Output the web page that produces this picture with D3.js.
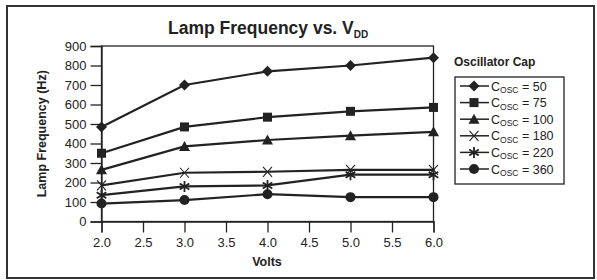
<!DOCTYPE html>
<html><head><meta charset="utf-8">
<script src="https://cdn.jsdelivr.net/npm/d3@7"></script>
<style>
body{margin:0;background:#fff;}
text{font-family:"Liberation Sans",Arial,sans-serif;fill:#222;}
</style></head>
<body><svg id="c" width="597" height="280"></svg>
<script>
const volts = [2.0, 3.0, 4.0, 5.0, 6.0];
const xTicks = [2.0, 2.5, 3.0, 3.5, 4.0, 4.5, 5.0, 5.5, 6.0];
const yTicks = [0, 100, 200, 300, 400, 500, 600, 700, 800, 900];
const capLabels = ["50", "75", "100", "180", "220", "360"];
const markerTypes = ["diamond", "square", "triangle", "x", "star", "circle"];
const c50  = [485, 700, 770, 800, 840];
const c75  = [350, 485, 535, 565, 585];
const c100 = [265, 385, 418, 440, 460];
const c180 = [185, 250, 255, 265, 265];
const c220 = [135, 180, 185, 240, 240];
const c360 = [92, 110, 140, 125, 125];
const seriesValues = [c50, c75, c100, c180, c220, c360];

const svg = d3.select("#c");
const ink = "#222";
svg.append("rect").attr("x",7).attr("y",6).attr("width",587).attr("height",272)
  .attr("fill","#fff").attr("stroke","#333").attr("stroke-width",2);

const L=101.5, R=433.5, T=46, B=221.5;
const x = d3.scaleLinear().domain([2,6]).range([L,R]);
const y = d3.scaleLinear().domain([0,900]).range([B,T]);

// plot box
svg.append("rect").attr("x",L).attr("y",T).attr("width",R-L).attr("height",B-T)
  .attr("fill","none").attr("stroke",ink).attr("stroke-width",1.3);

const gx = svg.append("g").attr("transform",`translate(0,${B})`)
  .call(d3.axisBottom(x).tickValues(xTicks).tickFormat(d3.format(".1f")).tickSize(11).tickPadding(5));
const gy = svg.append("g").attr("transform",`translate(${L},0)`)
  .call(d3.axisLeft(y).tickValues(yTicks).tickSize(11).tickPadding(4));
[gx,gy].forEach(g=>{
  g.select(".domain").attr("stroke",ink).attr("stroke-width",1.3);
  g.selectAll(".tick line").attr("stroke",ink).attr("stroke-width",1.3);
  g.selectAll(".tick text").attr("font-size",13).attr("font-family","Liberation Sans, Arial, sans-serif").attr("fill","#333");
});

function marker(g, type, cx, cy){
  const s = g.append("g").attr("transform",`translate(${cx},${cy})`);
  if(type==="diamond") s.append("path").attr("d","M0,-5.5L5.5,0L0,5.5L-5.5,0Z").attr("fill",ink);
  else if(type==="square") s.append("rect").attr("x",-4.5).attr("y",-4.5).attr("width",9).attr("height",9).attr("fill",ink);
  else if(type==="triangle") s.append("path").attr("d","M0,-5.5L5.5,4.5L-5.5,4.5Z").attr("fill",ink);
  else if(type==="x") s.append("path").attr("d","M-4.5,-5L4.5,5M4.5,-5L-4.5,5").attr("stroke",ink).attr("stroke-width",1.1).attr("fill","none");
  else if(type==="star") s.append("path").attr("d","M0,-5.5L0,5.5M-4.8,-3L4.8,3M4.8,-3L-4.8,3").attr("stroke",ink).attr("stroke-width",1.8).attr("fill","none");
  else if(type==="circle") s.append("circle").attr("r",5).attr("fill",ink);
}

const line = d3.line().x((d,i)=>x(volts[i])).y(d=>y(d));
seriesValues.forEach((vals,k)=>{
  svg.append("path").attr("d",line(vals)).attr("fill","none").attr("stroke",ink).attr("stroke-width",2.2);
});
seriesValues.forEach((vals,k)=>{
  vals.forEach((v,i)=>marker(svg, markerTypes[k], x(volts[i]), y(v)));
});

// title
const title = svg.append("text").attr("x",168).attr("y",34).attr("font-size",17.5).attr("font-weight","bold");
title.append("tspan").text("Lamp Frequency vs. V");
title.append("tspan").attr("dy",4).attr("font-size",10).text("DD");

svg.append("text").attr("transform",`translate(46,${(T+B)/2}) rotate(-90)`)
  .attr("text-anchor","middle").attr("font-size",12.5).attr("font-weight","bold").text("Lamp Frequency (Hz)");
svg.append("text").attr("x",267).attr("y",266).attr("text-anchor","middle")
  .attr("font-size",12.5).attr("font-weight","bold").text("Volts");

// legend
svg.append("text").attr("x",454).attr("y",66).attr("font-size",12).attr("font-weight","bold").text("Oscillator Cap");
svg.append("rect").attr("x",455).attr("y",77).attr("width",109).attr("height",107)
  .attr("fill","#fff").attr("stroke",ink).attr("stroke-width",1.3);
capLabels.forEach((c,k)=>{
  const cy = 86 + k*16.6;
  svg.append("line").attr("x1",460).attr("x2",489).attr("y1",cy).attr("y2",cy).attr("stroke",ink).attr("stroke-width",1.5);
  marker(svg, markerTypes[k], 474, cy);
  const t = svg.append("text").attr("x",491).attr("y",cy+4.5).attr("font-size",12.5).attr("fill","#333");
  t.append("tspan").text("C");
  t.append("tspan").attr("dy",2.5).attr("font-size",8.5).text("OSC");
  t.append("tspan").attr("dy",-2.5).text(" = " + c);
});
</script></body></html>
